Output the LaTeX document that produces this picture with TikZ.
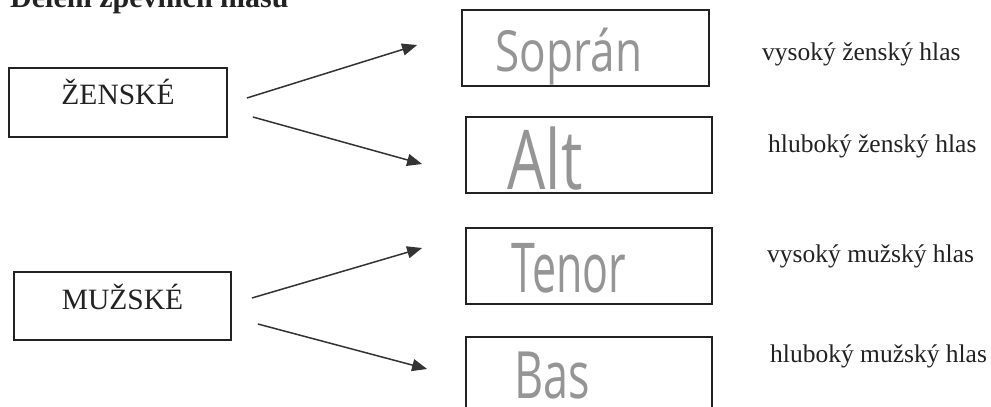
\documentclass[tikz,border=0pt]{standalone}
\usepackage{fontspec}
\setmainfont{Liberation Serif}
\newfontfamily\hand{Open Sans}
\usetikzlibrary{arrows.meta,calc}
\definecolor{ink}{HTML}{222222}
\definecolor{pencil}{HTML}{959595}
\definecolor{arrowc}{HTML}{333333}
\begin{document}
\begin{tikzpicture}[x=1pt,y=-1pt,
  groupbox/.style={draw=ink,line width=1.8pt,inner sep=0pt,text depth=0pt,
    font=\fontsize{29.5}{32}\selectfont,text=ink},
  voicebox/.style={draw=ink,line width=1.8pt,inner sep=0pt,minimum width=246pt,minimum height=76pt},
  handtext/.style={inner sep=0pt,text=pencil},
  desc/.style={inner sep=0pt,anchor=base west,text=ink,font=\fontsize{25.5}{28}\selectfont},
  conn/.style={draw=arrowc,line width=1.5pt,-{Triangle[length=15pt,width=12pt]}}]
\useasboundingbox (0,0) rectangle (991,407);
\fill[white] (0,0) rectangle (991,407);
% title
\node[inner sep=0pt,anchor=base west,text=ink,font=\bfseries\fontsize{30}{32}\selectfont] (title) at (10,7) {Dělení zpěvních hlasů};
% group boxes
\node[groupbox,text height=3pt,minimum width=218pt,minimum height=69pt] (zen) at (118,102.5) {ŽENSKÉ};
\node[groupbox,text height=6pt,minimum width=217pt,minimum height=68pt] (muz) at (122.5,306) {MUŽSKÉ};
% voice boxes
\node[voicebox,minimum width=247pt] (sop) at (585.5,48) {};
\node[voicebox] (alt) at (589,155) {};
\node[voicebox] (ten) at (589,266) {};
\node[voicebox] (bas) at (589,375) {};
% handwriting
\node[handtext] (sopt) at (569,57) {\scalebox{1.05}[1.35]{\hand\fontsize{42}{44}\selectfont Soprán}};
\node[handtext] (altt) at (545,159) {\scalebox{1.1}[1.5]{\hand\fontsize{55}{58}\selectfont Alt}};
\node[handtext] (tent) at (569,268) {\scalebox{1.0}[1.6]{\hand\fontsize{43}{46}\selectfont Tenor}};
\node[handtext] (bast) at (552,376) {\scalebox{1.0}[1.45]{\hand\fontsize{45}{48}\selectfont Bas}};
% descriptions
\node[desc] (d1) at (762,60) {vysoký ženský hlas};
\node[desc] (d2) at (768,152) {hluboký ženský hlas};
\node[desc] (d3) at (767,262) {vysoký mužský hlas};
\node[desc] (d4) at (770,362) {hluboký mužský hlas};
% connector end points
\coordinate (a1s) at ($(zen.east)+(19,-4.5)$);
\coordinate (a1e) at ($(sop.west)+(-44,-3)$);
\coordinate (a2s) at ($(zen.east)+(25,14.5)$);
\coordinate (a2e) at ($(alt.west)+(-43,9)$);
\coordinate (a3s) at ($(muz.east)+(20,-8)$);
\coordinate (a3e) at ($(ten.west)+(-43,-18)$);
\coordinate (a4s) at ($(muz.east)+(26,18)$);
\coordinate (a4e) at ($(bas.west)+(-38,-6)$);
\draw[conn] (a1s) -- (a1e);
\draw[conn] (a2s) -- (a2e);
\draw[conn] (a3s) -- (a3e);
\draw[conn] (a4s) -- (a4e);
\end{tikzpicture}
\end{document}
